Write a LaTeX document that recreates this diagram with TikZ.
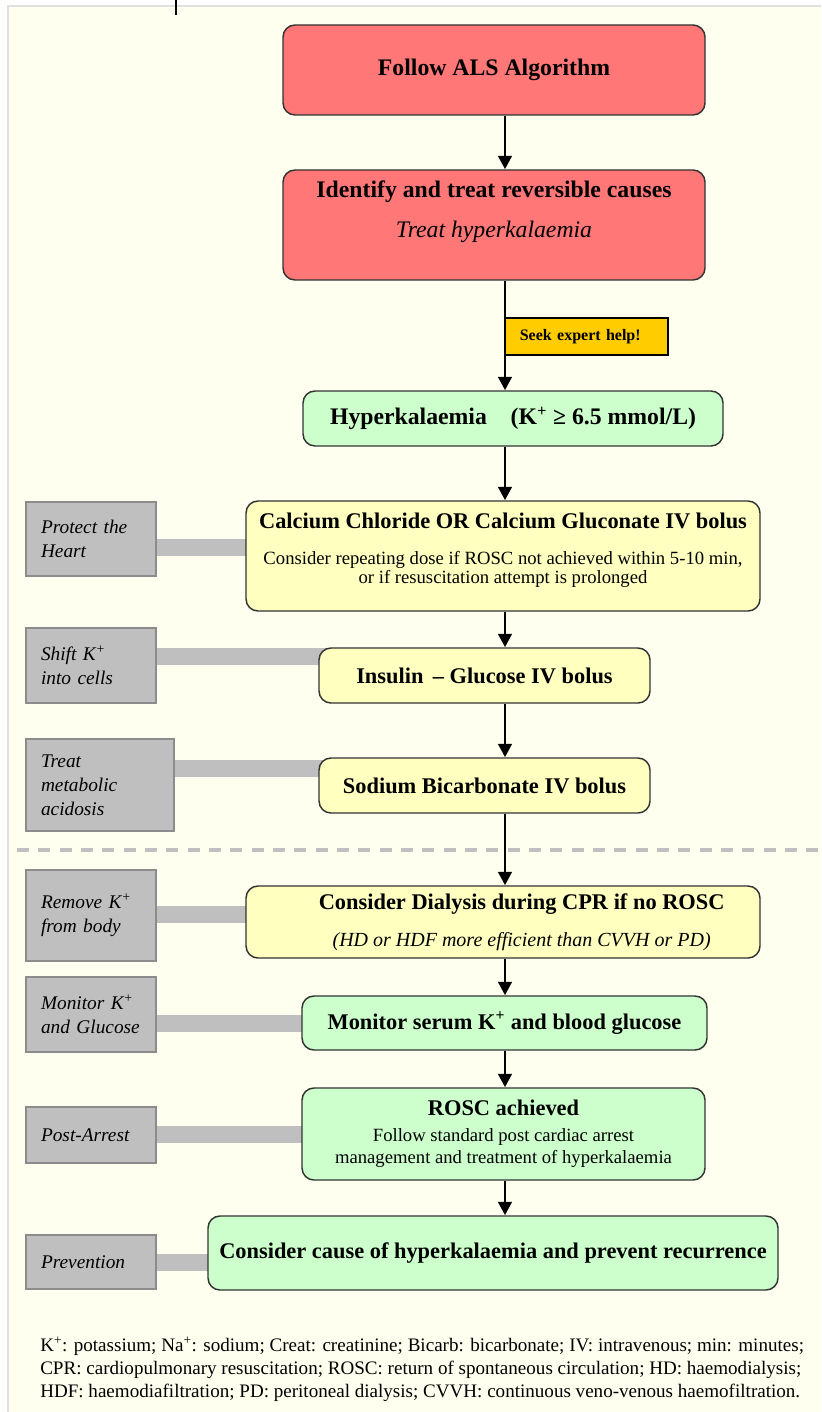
\documentclass[tikz,border=0pt]{standalone}
\usepackage{fontspec}
\setmainfont{Liberation Serif}
\usetikzlibrary{arrows.meta,backgrounds}

\definecolor{alsred}{HTML}{FF7777}
\definecolor{okgreen}{HTML}{CCFFCC}
\definecolor{drugyellow}{HTML}{FFFFC0}
\definecolor{helpyellow}{HTML}{FFCC00}
\definecolor{sidegray}{HTML}{BFBFBF}
\definecolor{pagecream}{HTML}{FFFFF0}

\newcommand\alsbig{\fontsize{17.8}{21}\selectfont}
\newcommand\alsmid{\fontsize{16.8}{20}\selectfont}
\newcommand\alsbody{\fontsize{14}{14.5}\selectfont}

\tikzset{
  stepbox/.style={rectangle, rounded corners=9pt, draw=black!80, line width=1.1pt, align=center, inner sep=0pt},
  sidebox/.style={rectangle, draw=black!45, line width=1.1pt, fill=sidegray, align=left, inner xsep=11.25pt, inner ysep=0pt, font=\fontsize{14.5}{18}\selectfont\itshape},
  bar/.style={line width=12.75pt, sidegray},
  arrow/.style={line width=2.2pt, -{Triangle[length=10pt,width=10pt]}},
}

\begin{document}
\begin{tikzpicture}[x=0.75pt, y=-0.75pt]
  \useasboundingbox (0,0) rectangle (821,1412);
  \coordinate (spine) at (505,0);

  \node[stepbox, fill=alsred, minimum width=316.5pt, minimum height=67.5pt, font=\alsbig\bfseries] (als) at (494,70) {Follow ALS Algorithm};
  \node[stepbox, fill=alsred, minimum width=316.5pt, minimum height=82.5pt, font=\alsbig] (identify) at (494,225) {{\bfseries Identify and treat reversible causes}\\[9pt]{\itshape Treat hyperkalaemia}\rule[-24pt]{0pt}{24pt}};
  \node[rectangle, draw=black, line width=1pt, fill=helpyellow, minimum width=122.25pt, minimum height=27.75pt, text width=100pt, inner xsep=11pt, align=left, font=\fontsize{12}{14}\selectfont\bfseries] (seek) at (586.5,336.5) {Seek expert help!};
  \node[stepbox, fill=okgreen, minimum width=315pt, minimum height=41.25pt, font=\alsbig\bfseries] (hyper) at (513,418.5) {Hyperkalaemia\quad (K\textsuperscript{+} ≥ 6.5 mmol/L)};
  \node[stepbox, fill=drugyellow, minimum width=385.5pt, minimum height=82.5pt, font=\alsbody] (calcium) at (503,556) {{\alsmid\bfseries Calcium Chloride OR Calcium Gluconate IV bolus}\\[12.5pt]Consider repeating dose if ROSC not achieved within 5-10 min,\\or if resuscitation attempt is prolonged\rule[-12pt]{0pt}{12pt}};
  \node[stepbox, fill=drugyellow, minimum width=248.25pt, minimum height=41.25pt, font=\alsmid\bfseries] (insulin) at (484.5,675.5) {Insulin \,– Glucose IV bolus};
  \node[stepbox, fill=drugyellow, minimum width=248.25pt, minimum height=41.25pt, font=\alsmid\bfseries] (sodium) at (484.5,785.5) {Sodium Bicarbonate IV bolus};
  \node[stepbox, fill=drugyellow, minimum width=385.5pt, minimum height=54pt, font=\alsmid] (dialysis) at (503,922) {\hspace*{28pt}{\bfseries Consider Dialysis during CPR if no ROSC}\\[8pt]\hspace*{28pt}{\fontsize{15}{18}\selectfont\itshape (HD or HDF more efficient than CVVH or PD)}};
  \node[stepbox, fill=okgreen, minimum width=303.75pt, minimum height=40.5pt, font=\alsmid\bfseries] (monitor) at (504.5,1023) {Monitor serum K\textsuperscript{+} and blood glucose};
  \node[stepbox, fill=okgreen, minimum width=302.25pt, minimum height=69pt, font=\fontsize{14}{16.5}\selectfont] (rosc) at (503.5,1134) {{\alsmid\bfseries ROSC achieved}\\[3pt]Follow standard post cardiac arrest\\management and treatment of hyperkalaemia};
  \node[stepbox, fill=okgreen, minimum width=427.5pt, minimum height=55.5pt, font=\alsmid\bfseries] (cause) at (493,1253) {Consider cause of hyperkalaemia and prevent recurrence};

  \foreach \name/\y/\w/\h/\txt in {protect/539/130/74/{Protect the\\Heart}, shift/665.5/130/75/{Shift K\textsuperscript{+}\\into cells}, treat/785/148/92/{Treat\\metabolic\\acidosis}, remove/915.5/130/91/{Remove K\textsuperscript{+}\\from body}, monside/1014.5/130/75/{Monitor K\textsuperscript{+}\\and Glucose}, post/1135/130/56/{Post-Arrest}, prevent/1262/130/54/{Prevention}}{
      \pgfmathsetmacro\cx{26+\w/2}
      \pgfmathsetmacro\bw{0.75*\w}
      \pgfmathsetmacro\bh{0.75*\h}
      \pgfmathsetmacro\tw{0.75*\w-22.5}
      \node[sidebox, minimum width=\bw pt, minimum height=\bh pt, text width=\tw pt] (\name) at (\cx,\y) {\txt};
  }

  \node[anchor=west, align=left, inner sep=0pt, font=\fontsize{14.3}{17.25}\selectfont] (notes) at (40,1369) {K\textsuperscript{+}: potassium; Na\textsuperscript{+}: sodium; Creat: creatinine; Bicarb: bicarbonate; IV: intravenous; min: minutes;\\CPR: cardiopulmonary resuscitation; ROSC: return of spontaneous circulation; HD: haemodialysis;\\HDF: haemodiafiltration; PD: peritoneal dialysis; CVVH: continuous veno-venous haemofiltration.};

  \begin{scope}[on background layer]
    \fill[pagecream] (8,6) rectangle (821,1412);
    \draw[black!12, line width=1pt] (8,1412) -- (8,6) -- (821,6);
    \draw[sidegray, line width=3pt, dash pattern=on 9pt off 7pt] (17,850) -- (821,850);
    \foreach \side/\main/\by in {protect/calcium/547, shift/insulin/656, treat/sodium/768, remove/dialysis/914, monside/monitor/1023, post/rosc/1134, prevent/cause/1262}{
      \draw[bar] (\side.center |- 0,\by) -- (\main.center |- 0,\by);
    }
  \end{scope}

  \foreach \a/\b in {als/identify, identify/hyper, hyper/calcium, calcium/insulin, insulin/sodium, sodium/dialysis, dialysis/monitor, monitor/rosc, rosc/cause}{
      \draw[arrow] (\a.south -| spine) -- (\b.north -| spine);
  }
  \draw[line width=2.2pt] (176,0) -- (176,15);
\end{tikzpicture}
\end{document}
